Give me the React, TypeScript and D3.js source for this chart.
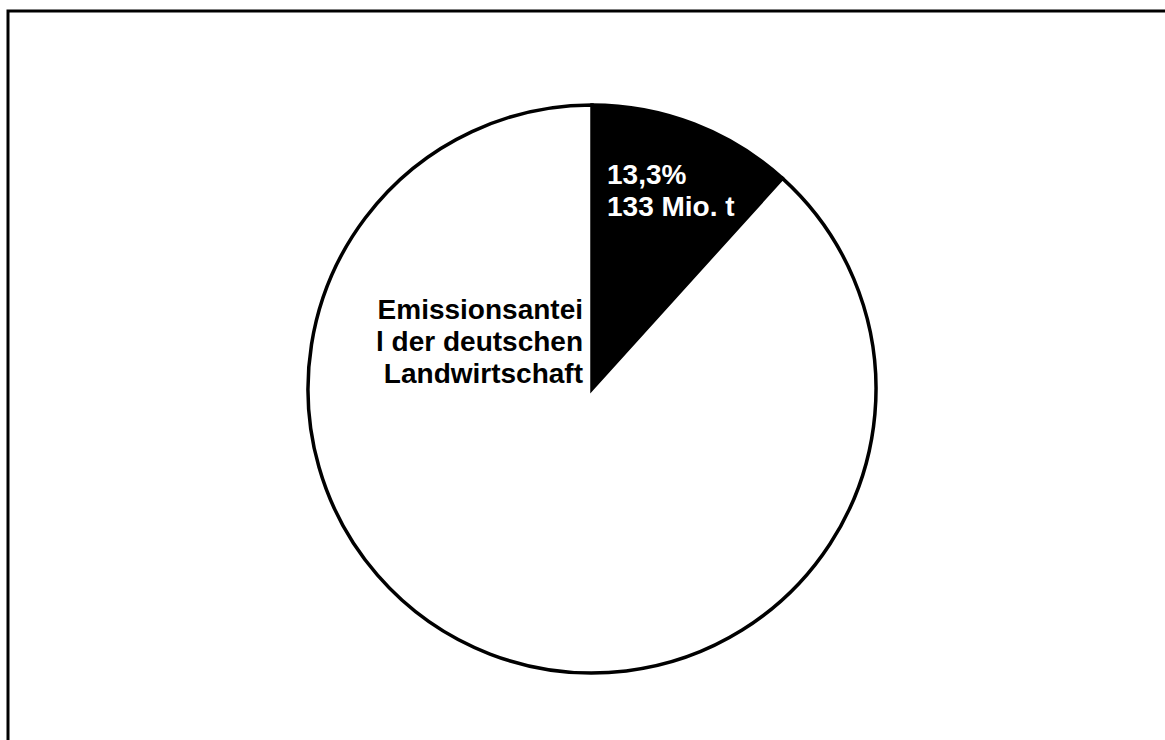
import { useEffect, useRef } from 'react'
import * as d3 from 'd3'

// slice shares as drawn (the dark wedge spans about 42 degrees)
const sliceNames = ['Landwirtschaft', 'Rest']
const sliceValues = [11.7, 88.3]
const sliceColors = ['#000000', '#ffffff']

const wedgeLabel = ['13,3%', '133 Mio. t']
const sideLabel = ['Emissionsantei', 'l der deutschen', 'Landwirtschaft']

export default function App() {
  const svgRef = useRef<SVGSVGElement>(null)

  useEffect(() => {
    if (!svgRef.current) return
    const svg = d3.select(svgRef.current)
    svg.selectAll('*').remove()

    const width = 1165
    const height = 740
    const cx = 592
    const cy = 389
    const radius = 284

    svg.append('rect')
      .attr('width', width)
      .attr('height', height)
      .attr('fill', '#fff')

    // frame (runs off the right and bottom of the picture)
    svg.append('rect')
      .attr('x', 8)
      .attr('y', 11)
      .attr('width', width + 20)
      .attr('height', height + 20)
      .attr('fill', 'none')
      .attr('stroke', '#000')
      .attr('stroke-width', 3)

    const pie = d3.pie<number>().sort(null).value(d => d)
    const arcs = pie(sliceValues)
    const arc = d3.arc<d3.PieArcDatum<number>>().innerRadius(0).outerRadius(radius)

    const g = svg.append('g').attr('transform', `translate(${cx},${cy})`)

    g.selectAll('path.slice')
      .data(arcs)
      .enter()
      .append('path')
      .attr('class', 'slice')
      .attr('d', arc)
      .attr('fill', (_, i) => sliceColors[i])
      .attr('stroke', '#000')
      .attr('stroke-width', 3.5)
      .attr('stroke-linejoin', 'miter')
      .append('title')
      .text((_, i) => sliceNames[i])

    const font = '"Liberation Sans", Arial, sans-serif'
    const lineH = 32

    g.append('text')
      .attr('font-family', font)
      .attr('font-weight', 'bold')
      .attr('font-size', 28)
      .attr('fill', '#fff')
      .selectAll('tspan')
      .data(wedgeLabel)
      .enter()
      .append('tspan')
      .attr('x', 15)
      .attr('y', (_, i) => -205 + i * lineH)
      .text(d => d)

    g.append('text')
      .attr('font-family', font)
      .attr('font-weight', 'bold')
      .attr('font-size', 28)
      .attr('fill', '#000')
      .attr('text-anchor', 'end')
      .selectAll('tspan')
      .data(sideLabel)
      .enter()
      .append('tspan')
      .attr('x', -9)
      .attr('y', (_, i) => -70 + i * lineH)
      .text(d => d)
  }, [])

  return (
    <div style={{ position: 'absolute', left: 0, top: 0 }}>
      <svg ref={svgRef} width={1165} height={740} style={{ display: 'block' }} />
    </div>
  )
}
